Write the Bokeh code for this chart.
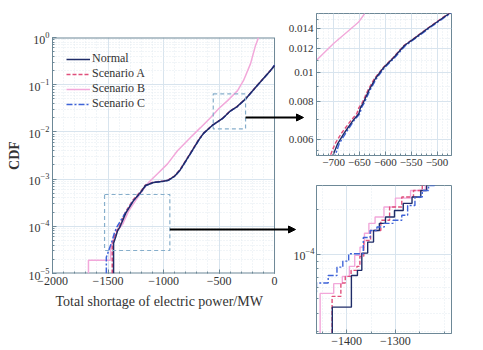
from bokeh.plotting import figure
from bokeh.layouts import row, column
from bokeh.models import (Range1d, FixedTicker, NumeralTickFormatter,
                          Arrow, NormalHead, Legend, Title)
from bokeh.embed import file_html
from bokeh.resources import INLINE

# ---------------- data ----------------
series_names = ["Normal", "Scenario A", "Scenario B", "Scenario C"]

# main plot: total shortage (MW) vs CDF
normal_x = [-1450, -1450, -1430, -1414, -1390, -1340, -1270, -1207, -1162, -1090, -1000, -955, -900,
            -847, -757, -685, -640, -561, -471, -396, -336, -261, -156, -36, 0]
normal_y = [1e-5, 4.4e-5, 6e-5, 8e-5, 1.0e-4, 1.9e-4, 3.5e-4, 5.2e-4, 7.3e-4, 8.5e-4, 9.0e-4, 9.5e-4, 1.15e-3,
            1.6e-3, 3.5e-3, 6.6e-3, 9.3e-3, 1.37e-2, 1.9e-2, 2.8e-2, 3.45e-2, 5.0e-2, 9.6e-2, 0.20, 0.255]
a_x = [-1462, -1462, -1440, -1418, -1395, -1345, -1275, -1210, -1165, -1095, -1000, -958, -902,
       -850, -760, -688, -642, -563, -473, -398, -338, -263, -158, -38, 0]
a_y = [1e-5, 4.2e-5, 6.2e-5, 8.3e-5, 1.05e-4, 1.95e-4, 3.6e-4, 5.3e-4, 7.4e-4, 8.6e-4, 9.1e-4, 9.6e-4, 1.16e-3,
       1.6e-3, 3.5e-3, 6.6e-3, 9.3e-3, 1.37e-2, 1.9e-2, 2.8e-2, 3.45e-2, 5.0e-2, 9.6e-2, 0.20, 0.255]
b_x = [-1676, -1676, -1477, -1477, -1440, -1414, -1369, -1315, -1252, -1189, -1135, -1054, -964,
       -874, -757, -667, -577, -504, -423, -333, -279, -216, -171, -144]
b_y = [1e-5, 1.9e-5, 1.9e-5, 3.5e-5, 6e-5, 8e-5, 1.1e-4, 2.1e-4, 3.5e-4, 5.7e-4, 8.5e-4, 1.3e-3, 2.1e-3,
       4.0e-3, 7.6e-3, 1.23e-2, 2.0e-2, 3.1e-2, 4.6e-2, 7.5e-2, 0.123, 0.28, 0.68, 1.0]
c_x = [-1515, -1515, -1495, -1462, -1440, -1417, -1345, -1272, -1205, -1160, -1088, -1000, -953, -898,
       -845, -755, -683, -638, -559, -469, -394, -334, -259, -154, -34, 0]
c_y = [1e-5, 2.2e-5, 3.0e-5, 5.0e-5, 7.5e-5, 1.0e-4, 1.9e-4, 3.5e-4, 5.2e-4, 7.3e-4, 8.5e-4, 9.0e-4, 9.5e-4, 1.15e-3,
       1.6e-3, 3.5e-3, 6.6e-3, 9.3e-3, 1.37e-2, 1.9e-2, 2.8e-2, 3.45e-2, 5.0e-2, 9.6e-2, 0.20, 0.26]

# axis extents of the main plot
main_x_lo, main_x_hi = -2000, 0
main_y_lo, main_y_hi = 1e-5, 1

# highlighted regions and arrows in main plot
zoom1_box = dict(left=-552, right=-261, bottom=0.0116, top=0.064)
zoom2_box = dict(left=-1531, right=-943, bottom=3.07e-5, top=4.72e-4)
arrow1 = dict(x_start=-261, x_end=261, y_start=0.0202, y_end=0.0202)
arrow2 = dict(x_start=-943, x_end=189, y_start=8.55e-5, y_end=8.55e-5)

# upper inset (zoom on -700..-500)
t_normal_x = [-705, -692, -679, -663, -651, -648, -643, -632, -619, -603, -584, -563, -541, -516, -489, -470]
t_normal_y = [0.0051, 0.0058, 0.0063, 0.0069, 0.0073, 0.00764, 0.0079, 0.0087, 0.00955, 0.0104, 0.0112,
              0.0123, 0.0131, 0.0141, 0.0152, 0.0160]
t_a_x = [-710, -697, -684, -667, -655, -651, -645, -634, -621, -604, -585, -564, -542, -517, -490, -471]
t_a_y = t_normal_y
t_c_x = [-700, -689, -676, -661, -649, -646, -641, -630, -617, -601, -582, -561, -539, -514, -487, -468]
t_c_y = t_normal_y
t_b_x = [-735, -700, -675, -652, -640]
t_b_y = [0.0109, 0.0125, 0.0136, 0.0147, 0.0157]

# lower inset (zoom on the tail, step CDF)
l_normal_x = [-1470, -1429.6, -1390.4, -1378, -1369, -1357, -1345, -1333, -1320.5, -1302, -1284, -1266, -1248, -1236]
l_normal_y = [2.5e-5, 4.4e-5, 7.2e-5, 7.8e-5, 1.02e-4, 1.21e-4, 1.45e-4, 1.62e-4, 1.79e-4, 1.98e-4, 2.21e-4,
              2.44e-4, 2.7e-4, 3.2e-4]
l_a_x = [-1470, -1430, -1412, -1403, -1391, -1379, -1373, -1365, -1351, -1330, -1312, -1287, -1263, -1245]
l_a_y = [2.5e-5, 5.2e-5, 6.4e-5, 7.1e-5, 7.8e-5, 8.3e-5, 9.7e-5, 1.24e-4, 1.45e-4, 1.70e-4, 2.09e-4, 2.44e-4,
         2.70e-4, 3.2e-4]
l_b_x = [-1470, -1454.5, -1426.7, -1409, -1394.5, -1383.6, -1372.7, -1363.6, -1354.5, -1341.8, -1323.6, -1300,
         -1269, -1238.7]
l_b_y = [2.5e-5, 5.45e-5, 6.34e-5, 7.1e-5, 8.3e-5, 9.84e-5, 1.12e-4, 1.39e-4, 1.62e-4, 1.79e-4, 2.09e-4,
         2.40e-4, 2.70e-4, 3.2e-4]
l_c_x = [-1475, -1462, -1438, -1420, -1408, -1396, -1366, -1352, -1338, -1323, -1305, -1287, -1275, -1260,
         -1245, -1232, -1220]
l_c_y = [5.4e-5, 6.4e-5, 7.2e-5, 8.2e-5, 9.0e-5, 1.01e-4, 1.3e-4, 1.45e-4, 1.53e-4, 1.62e-4, 1.70e-4,
         1.84e-4, 2.14e-4, 2.44e-4, 2.70e-4, 2.92e-4, 3.2e-4]

main_xticks = [-2000, -1500, -1000, -500, 0]
top_xticks = [-700, -650, -600, -550, -500]
top_yticks = [0.006, 0.008, 0.01, 0.012, 0.014]
low_xticks = [-1400, -1300]
low_yticks = [1e-4]

# ---------------- styles ----------------
FONT = "Liberation Serif"
TXT = "#333333"
AX = "#6d8897"
GRID = "#d8e4ee"
MGRID = "#e2eaf0"
COL = {"Normal": "#1f2c68", "Scenario A": "#e0507c", "Scenario B": "#f2a8da", "Scenario C": "#3e63d8"}
DASH = {"Normal": "solid", "Scenario A": "4 2", "Scenario B": "solid", "Scenario C": "6 2 2 2"}


def style(p, fs="12px"):
    p.outline_line_color = AX
    p.outline_line_width = 1
    p.background_fill_color = "white"
    p.border_fill_color = None
    for ax in p.axis:
        ax.axis_line_color = AX
        ax.major_tick_line_color = AX
        ax.minor_tick_line_color = AX
        ax.major_tick_in = 4
        ax.major_tick_out = 0
        ax.minor_tick_in = 2
        ax.minor_tick_out = 0
        ax.major_label_text_font = FONT
        ax.major_label_text_font_size = fs
        ax.major_label_text_color = TXT
        ax.major_label_standoff = 3
        ax.axis_label_text_font = FONT
        ax.axis_label_text_color = TXT
        ax.axis_label_text_font_style = "normal"
    for g in (p.xgrid, p.ygrid):
        g.grid_line_color = GRID
        g.grid_line_width = 1
        g.minor_grid_line_color = MGRID
        g.minor_grid_line_dash = "1 2"


# ---------------- main plot ----------------
# the frame is extended to the right (beyond x = 0) so that the zoom arrows can leave the axes box;
# that extra strip is blanked out and the axes box is redrawn at x = 0.
main = figure(width=305, height=350, x_range=Range1d(main_x_lo, 279), y_range=Range1d(main_y_lo, main_y_hi),
              y_axis_type="log", output_backend="svg", toolbar_location=None,
              min_border_left=52, min_border_right=0, min_border_top=37, min_border_bottom=77)
main.xaxis.ticker = FixedTicker(ticks=main_xticks,
                                minor_ticks=list(range(-2000, 1, 100)))
main.yaxis.ticker.num_minor_ticks = 10
main.yaxis.axis_label = "CDF"
style(main)
main.outline_line_color = None
main.xaxis.axis_line_color = None
main.yaxis.axis_label_text_font_size = "14px"
main.yaxis.axis_label_text_font_style = "bold"
main.yaxis.axis_label_standoff = 4
main.add_layout(Title(text="Total shortage of electric power/MW", align="left", offset=3, standoff=8,
                      text_font=FONT, text_font_size="14px", text_font_style="normal",
                      text_color=TXT), "below")

# blank strip right of x = 0 and redraw the axes box
main.quad(left=[main_x_hi], right=[279], bottom=[main_y_lo], top=[main_y_hi],
          fill_color="white", line_color=None)
main.line([main_x_lo, main_x_hi], [main_y_lo, main_y_lo], line_color=AX, line_width=2)
main.line([main_x_lo, main_x_hi], [main_y_hi, main_y_hi], line_color=AX, line_width=2)
main.line([main_x_hi, main_x_hi], [main_y_lo, main_y_hi], line_color=AX, line_width=1)

items = []
for name, xs, ys in [("Scenario B", b_x, b_y), ("Scenario A", a_x, a_y),
                     ("Scenario C", c_x, c_y), ("Normal", normal_x, normal_y)]:
    r = main.line(xs, ys, line_color=COL[name], line_dash=DASH[name], line_width=1.5)
    items.append((name, [r]))
order = {n: i for i, n in enumerate(series_names)}
items.sort(key=lambda it: order[it[0]])

main.quad(line_color="#86aecb", fill_color=None, line_dash="4 3", line_width=1.2,
          **{k: [v] for k, v in zoom1_box.items()})
main.quad(line_color="#86aecb", fill_color=None, line_dash="4 3", line_width=1.2,
          **{k: [v] for k, v in zoom2_box.items()})
for a in (arrow1, arrow2):
    main.add_layout(Arrow(end=NormalHead(size=7, fill_color="black", line_color="black"),
                          line_color="black", line_width=1.8, **a))

leg = Legend(items=items, location="top_left")
leg.border_line_color = None
leg.background_fill_alpha = 0
leg.margin = 14
leg.padding = 4
leg.spacing = 0
leg.glyph_height = 14
leg.label_height = 14
leg.glyph_width = 24
leg.label_standoff = 2
leg.label_text_font = FONT
leg.label_text_font_size = "12px"
leg.label_text_color = TXT
main.add_layout(leg, "center")

# ---------------- upper inset ----------------
top = figure(width=213, height=178, x_range=Range1d(-733, -472), y_range=Range1d(0.00529, 0.01573),
             y_axis_type="log", output_backend="svg", toolbar_location=None,
             min_border_left=46, min_border_right=2, min_border_top=13, min_border_bottom=23)
top.xaxis.ticker = FixedTicker(ticks=top_xticks, minor_ticks=list(range(-730, -470, 10)))
top.yaxis.ticker = FixedTicker(ticks=top_yticks, minor_ticks=[0.0055, 0.007, 0.009, 0.011, 0.013, 0.015])
top.yaxis.formatter = NumeralTickFormatter(format="0.[000]")
style(top, "11px")
for name, xs, ys in [("Scenario B", t_b_x, t_b_y), ("Scenario A", t_a_x, t_a_y),
                     ("Scenario C", t_c_x, t_c_y), ("Normal", t_normal_x, t_normal_y)]:
    top.line(xs, ys, line_color=COL[name], line_dash=DASH[name], line_width=1.4)

# ---------------- lower inset ----------------
low = figure(width=213, height=172, x_range=Range1d(-1462, -1185), y_range=Range1d(2.92e-5, 2.92e-4),
             y_axis_type="log", output_backend="svg", toolbar_location=None,
             min_border_left=29, min_border_right=32, min_border_top=7, min_border_bottom=17)
low.xaxis.ticker = FixedTicker(ticks=low_xticks, minor_ticks=[-1450, -1350, -1250, -1200])
low.yaxis.ticker = FixedTicker(ticks=low_yticks,
                               minor_ticks=[3e-5, 4e-5, 5e-5, 6e-5, 7e-5, 8e-5, 9e-5, 2e-4])
style(low, "12px")
low.yaxis.major_label_standoff = 2
for name, xs, ys in [("Scenario B", l_b_x, l_b_y), ("Scenario A", l_a_x, l_a_y),
                     ("Normal", l_normal_x, l_normal_y), ("Scenario C", l_c_x, l_c_y)]:
    low.step(xs, ys, mode="after", line_color=COL[name], line_dash=DASH[name], line_width=1.4)

right = column(top, low, margin=(0, 0, 0, -35))
layout = row(main, right)

open("out.html", "w").write(file_html(layout, INLINE))
